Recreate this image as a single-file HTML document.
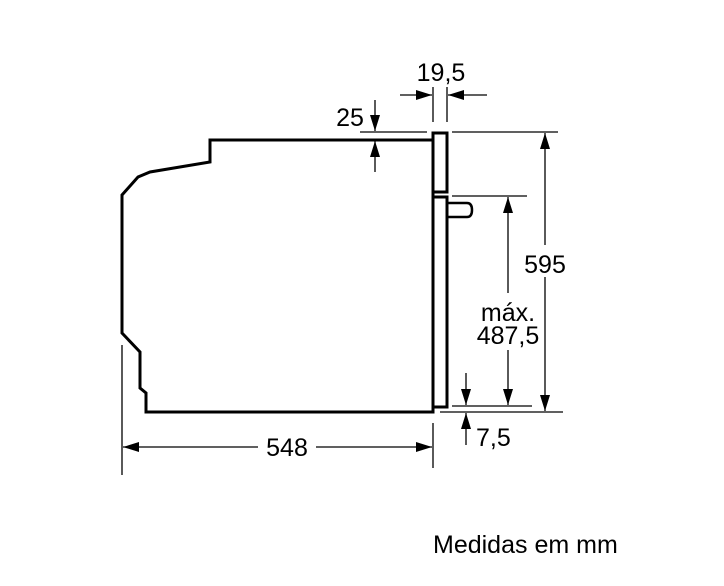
<!DOCTYPE html>
<html><head><meta charset="utf-8"><style>
body{margin:0;background:#fff}
svg{display:block}
text{font-family:"Liberation Sans",Arial,sans-serif;font-size:25px;fill:#000}
</style></head><body>
<svg width="724" height="586" viewBox="0 0 724 586" xmlns="http://www.w3.org/2000/svg">
<defs>
<marker id="b" markerWidth="16" markerHeight="10" refX="16" refY="5" orient="auto" markerUnits="userSpaceOnUse">
<path d="M0,0 L16,5 L0,10 Z" fill="#000"/></marker>
</defs>
<path d="M433,140 L210,140 L210,162 L150,172 L138,177 L122,195 L122,333 L140,352 L140,388 L146,393 L146,412 L433,412 L433,407 L447,407 L447,197 L433,197 L433,192 L447,192 L447,133 L433,133 L433,407" fill="none" stroke="#000" stroke-width="3"/>
<path d="M447,203 L467,203 Q472,203 472,210 Q472,217 467,217 L447,217" fill="none" stroke="#000" stroke-width="2.5"/>
<g stroke="#000" stroke-width="1.3" fill="none">
<line x1="433" y1="87" x2="433" y2="122"/><line x1="447" y1="87" x2="447" y2="122"/>
<line x1="400" y1="95" x2="432" y2="95" marker-end="url(#b)"/>
<line x1="487" y1="95" x2="448" y2="95" marker-end="url(#b)"/>
<line x1="360" y1="132" x2="427" y2="132"/>
<line x1="375" y1="100" x2="375" y2="131" marker-end="url(#b)"/>
<line x1="375" y1="172" x2="375" y2="141" marker-end="url(#b)"/>
<line x1="452" y1="132" x2="558" y2="132"/>
<line x1="440" y1="412" x2="563" y2="412"/>
<line x1="545" y1="245" x2="545" y2="133" marker-end="url(#b)"/>
<line x1="545" y1="277" x2="545" y2="411" marker-end="url(#b)"/>
<line x1="452" y1="196" x2="527" y2="196"/>
<line x1="452" y1="406" x2="532" y2="406"/>
<line x1="508" y1="293" x2="508" y2="197" marker-end="url(#b)"/>
<line x1="508" y1="350" x2="508" y2="405" marker-end="url(#b)"/>
<line x1="466" y1="373" x2="466" y2="405" marker-end="url(#b)"/>
<line x1="466" y1="445" x2="466" y2="413" marker-end="url(#b)"/>
<line x1="122" y1="345" x2="122" y2="475"/>
<line x1="433" y1="423" x2="433" y2="468"/>
<line x1="258" y1="447" x2="123" y2="447" marker-end="url(#b)"/>
<line x1="316" y1="447" x2="432" y2="447" marker-end="url(#b)"/>
</g>
<text x="441" y="81" text-anchor="middle">19,5</text>
<text x="350" y="126" text-anchor="middle">25</text>
<text x="545" y="273" text-anchor="middle">595</text>
<text x="508" y="321" text-anchor="middle">máx.</text>
<text x="508" y="344" text-anchor="middle">487,5</text>
<text x="476" y="446">7,5</text>
<text x="287" y="456" text-anchor="middle">548</text>
<text x="433" y="553">Medidas em mm</text>
</svg>
</body></html>
